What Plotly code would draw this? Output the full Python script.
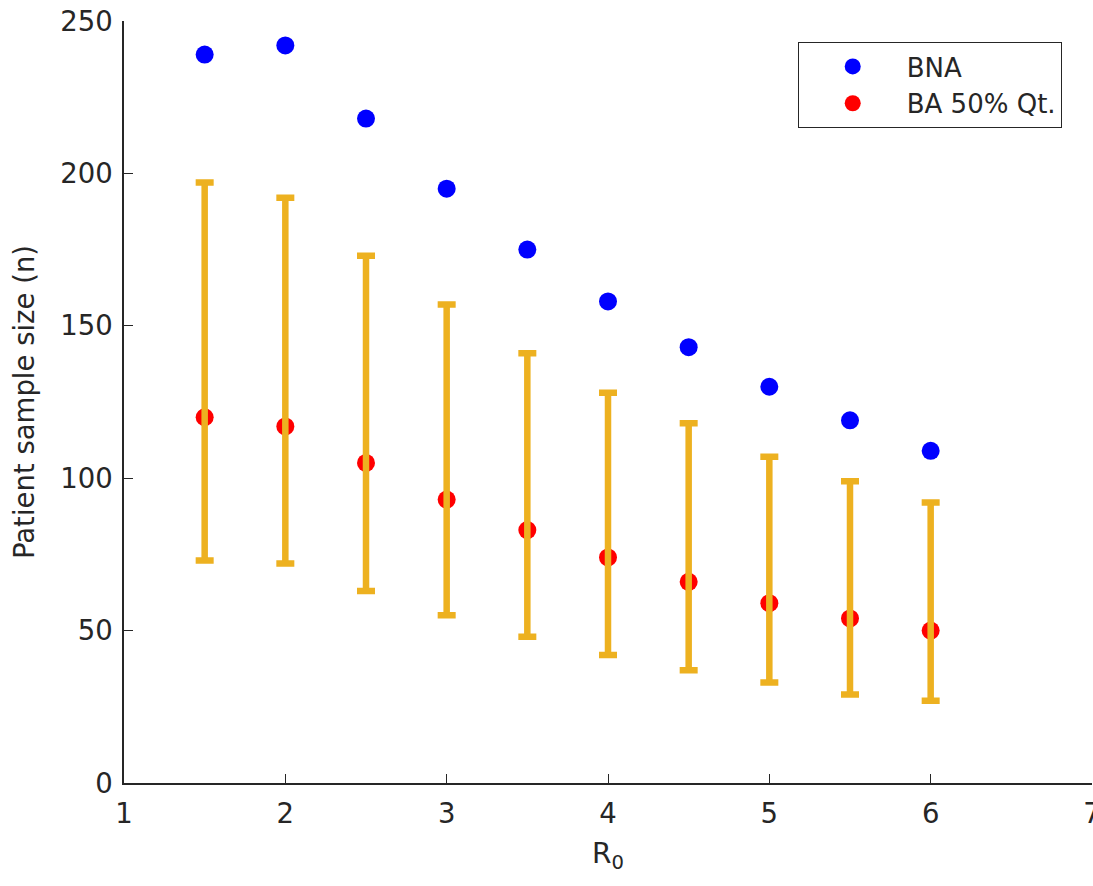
import plotly.graph_objects as go

r0 = [1.5, 2.0, 2.5, 3.0, 3.5, 4.0, 4.5, 5.0, 5.5, 6.0]
bna = [239, 242, 218, 195, 175, 158, 143, 130, 119, 109]
ba_median = [120, 117, 105, 93, 83, 74, 66, 59, 54, 50]
ba_upper = [197, 192, 173, 157, 141, 128, 118, 107, 99, 92]
ba_lower = [73, 72, 63, 55, 48, 42, 37, 33, 29, 27]

err_plus = [u - m for u, m in zip(ba_upper, ba_median)]
err_minus = [m - l for m, l in zip(ba_median, ba_lower)]

font_family = "DejaVu Sans"
txt = "#262626"

fig = go.Figure()
fig.add_trace(go.Scatter(
    x=r0, y=bna, mode="markers", name="BNA",
    marker=dict(color="#0000ff", size=18, line=dict(width=0)),
))
fig.add_trace(go.Scatter(
    x=r0, y=ba_median, mode="markers", name="BA 50% Qt.",
    marker=dict(color="#ff0000", size=18, line=dict(width=0)),
))
fig.add_trace(go.Scatter(
    x=r0, y=ba_median, mode="markers", showlegend=False,
    marker=dict(color="rgba(0,0,0,0)", size=1),
    error_y=dict(type="data", symmetric=False, array=err_plus, arrayminus=err_minus,
                 color="#EDB120", thickness=6.5, width=9),
    hoverinfo="skip",
))

fig.update_layout(
    width=1093, height=886,
    margin=dict(l=124, r=1, t=21, b=103),
    plot_bgcolor="white", paper_bgcolor="white",
    font=dict(family=font_family, color=txt, size=27),
    showlegend=True,
    legend=dict(
        x=0.696, y=0.9724, xanchor="left", yanchor="top",
        bgcolor="white", bordercolor=txt, borderwidth=1,
        font=dict(size=26, color=txt), itemwidth=98,
        tracegroupgap=0,
    ),
    xaxis=dict(
        range=[1, 7], tickvals=[1, 2, 3, 4, 5, 6, 7],
        showline=True, linecolor=txt, linewidth=1.5,
        ticks="inside", ticklen=9, tickcolor=txt,
        showgrid=False, zeroline=False, automargin=False,
        ticklabeloverflow="allow", ticklabelstandoff=5,
        tickfont=dict(size=27.5, color=txt),
        title=dict(text="R<sub>0</sub>", font=dict(size=28, color=txt), standoff=16),
    ),
    yaxis=dict(
        range=[0, 250], tickvals=[0, 50, 100, 150, 200, 250],
        showline=True, linecolor=txt, linewidth=1.5,
        ticks="inside", ticklen=9, tickcolor=txt,
        showgrid=False, zeroline=False, automargin=False,
        ticklabelstandoff=4,
        tickfont=dict(size=27.5, color=txt),
        title=dict(text="Patient sample size (n)", font=dict(size=27.5, color=txt), standoff=18),
    ),
)

fig.write_html("out.html")
